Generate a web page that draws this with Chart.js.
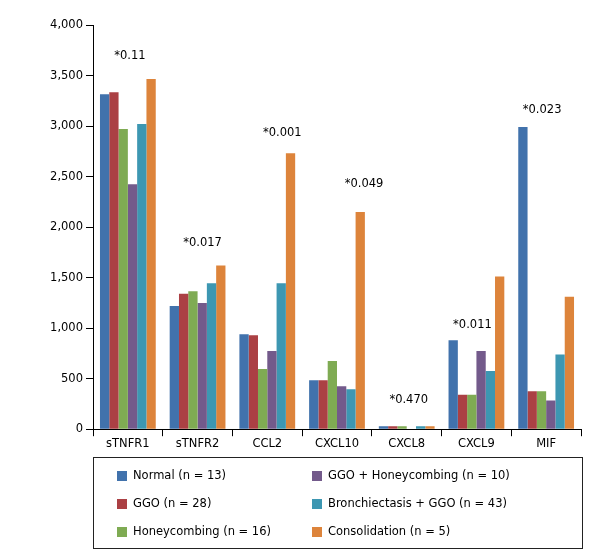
<!DOCTYPE html>
<html>
<head>
<meta charset="utf-8">
<script src="https://cdn.jsdelivr.net/npm/chart.js@4.4.1/dist/chart.umd.min.js"></script>
<style>
  html, body { margin: 0; padding: 0; background: #fff; }
  #wrap { width: 606px; height: 551px; }
</style>
</head>
<body>
<div id="wrap"><canvas id="chart"></canvas></div>
<script>
// categories and series
const categories = ['sTNFR1', 'sTNFR2', 'CCL2', 'CXCL10', 'CXCL8', 'CXCL9', 'MIF'];
const seriesNames = [
    'Normal (n = 13)', 'GGO (n = 28)', 'Honeycombing (n = 16)',
    'GGO + Honeycombing (n = 10)', 'Bronchiectasis + GGO (n = 43)', 'Consolidation (n = 5)'
];
const normal        = [3315, 1220, 940, 485, 30, 880, 2990];
const ggo           = [3335, 1340, 930, 485, 30, 340, 375];
const honeycombing  = [2970, 1365, 595, 675, 30, 340, 375];
const ggoHoney      = [2425, 1250, 775, 425, 0, 775, 285];
const bronchGgo     = [3020, 1445, 1445, 395, 30, 575, 740];
const consolidation = [3465, 1620, 2730, 2150, 30, 1510, 1310];
const pValues = ['*0.11', '*0.017', '*0.001', '*0.049', '*0.470', '*0.011', '*0.023'];
const pLabelAt = [3690, 1845, 2935, 2430, 285, 1035, 3160];
const yTicks = [0, 500, 1000, 1500, 2000, 2500, 3000, 3500, 4000];

const colors = ['#4172ac', '#ab4044', '#7fab53', '#735a8b', '#3d97b2', '#dd843b'];
const FONT = "'DejaVu Sans', sans-serif";

const seriesData = [normal, ggo, honeycombing, ggoHoney, bronchGgo, consolidation];

// p-value labels above the groups
const pLabels = {
    id: 'pLabels',
    afterDatasetsDraw(chart) {
        const ctx = chart.ctx;
        const x = chart.scales.x, y = chart.scales.y;
        const nudge = [2, 5, 15, 27, 2, -4, -4];
        ctx.save();
        ctx.font = '11.5px ' + FONT;
        ctx.fillStyle = '#000';
        ctx.textAlign = 'center';
        ctx.textBaseline = 'middle';
        pValues.forEach((t, i) => {
            ctx.fillText(t, x.getPixelForValue(i) + nudge[i], y.getPixelForValue(pLabelAt[i]));
        });
        ctx.restore();
    }
};

// boxed two-column legend under the chart
const boxLegend = {
    id: 'boxLegend',
    afterDraw(chart) {
        const ctx = chart.ctx;
        const a = chart.chartArea;
        const left = a.left, right = a.right + 1;
        const top = chart.height - 94, bottom = chart.height - 3;
        ctx.save();
        ctx.strokeStyle = '#222';
        ctx.lineWidth = 1;
        ctx.strokeRect(left + 0.5, top + 0.5, right - left, bottom - top);
        ctx.font = '11.5px ' + FONT;
        ctx.textBaseline = 'middle';
        ctx.fillStyle = '#000';
        chart.data.datasets.forEach((ds, i) => {
            const col = Math.floor(i / 3), row = i % 3;
            const mx = left + 24 + col * 195;
            const my = top + 19 + row * 28;
            ctx.fillStyle = ds.backgroundColor;
            ctx.fillRect(mx, my - 5, 10, 10);
            ctx.fillStyle = '#000';
            ctx.fillText(ds.label, mx + 16, my);
        });
        ctx.restore();
    }
};

new Chart(document.getElementById('chart').getContext('2d'), {
    type: 'bar',
    data: {
        labels: categories,
        datasets: seriesData.map((d, i) => ({
            label: seriesNames[i],
            data: d,
            backgroundColor: colors[i],
            borderWidth: 0,
            categoryPercentage: 0.8,
            barPercentage: 1.0
        }))
    },
    options: {
        responsive: true,
        maintainAspectRatio: false,
        animation: false,
        layout: { padding: { top: 25, right: 25, bottom: 99, left: 0 } },
        plugins: {
            legend: { display: false },
            tooltip: { enabled: false }
        },
        scales: {
            x: {
                grid: { display: true, drawOnChartArea: false, color: '#000', tickLength: 7, offset: true },
                border: { color: '#000', width: 1 },
                ticks: { color: '#000', font: { family: FONT, size: 11.5 }, padding: 1 }
            },
            y: {
                min: 0,
                max: 4000,
                afterFit(s) { s.width = 93; },
                afterBuildTicks(s) { s.ticks = yTicks.map(v => ({ value: v })); },
                grid: { display: true, drawOnChartArea: false, color: '#000', tickLength: 7 },
                border: { color: '#000', width: 1 },
                ticks: {
                    color: '#000',
                    font: { family: FONT, size: 11.5 },
                    padding: 3,
                    callback: v => v.toLocaleString('en-US')
                }
            }
        }
    },
    plugins: [pLabels, boxLegend]
});
</script>
</body>
</html>
